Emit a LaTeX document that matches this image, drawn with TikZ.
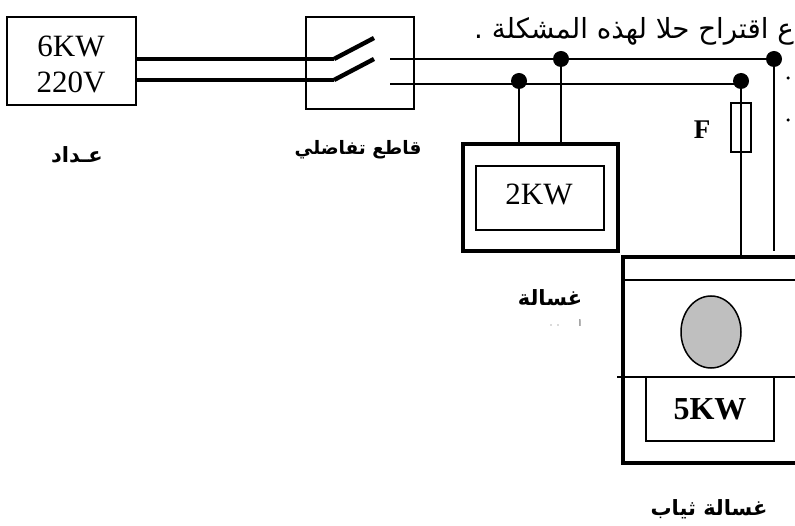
\documentclass[tikz,border=0pt]{standalone}
\usepackage{fontspec}
\usetikzlibrary{shapes.geometric}
\setmainfont{Liberation Serif}
\newfontfamily\arabicfont[Script=Arabic]{DejaVu Sans}
\TeXXeTstate=1
\tikzset{
  thinbox/.style={draw=black,line width=1.5pt,fill=white,inner sep=0pt,align=center},
  thickbox/.style={draw=black,line width=4pt,fill=white,inner sep=0pt},
  wire/.style={line width=1.5pt},
  bus/.style={line width=4pt},
  blade/.style={line width=4.4pt},
  junction/.style={circle,fill=black,inner sep=0pt,minimum size=16pt},
  speck/.style={circle,fill=black,inner sep=0pt,minimum size=3.5pt},
  tinyspeck/.style={circle,fill=black!60,inner sep=0pt,minimum size=1.2pt},
  serifval/.style={inner sep=0pt,font=\fontsize{31}{36}\selectfont,align=center},
  latb/.style={inner sep=0pt,font=\bfseries\fontsize{32}{36}\selectfont},
  arlabel/.style={inner sep=0pt}
}
\newcommand{\arsize}[1]{\arabicfont\bfseries\fontsize{#1}{#1}\selectfont}
\begin{document}
\begin{tikzpicture}[x=1pt,y=-1pt]
\clip (0,0) rectangle (795,526);
\fill[white] (0,0) rectangle (795,526);
% top text
\node[anchor=east,inner sep=0pt,font=\arabicfont\fontsize{27.7}{32}\selectfont] (toptext) at (794,31) {\beginR ع اقتراح حلا لهذه المشكلة .\endR};
% meter
\node[thinbox,minimum width=129pt,minimum height=88pt] (meter) at (71.5,61) {};
\node[serifval] (meterval) at (71,64) {6KW\\220V};
\coordinate (m1) at (meter.east |- 0,59);
\coordinate (m2) at (meter.east |- 0,80);
% breaker
\node[thinbox,minimum width=108pt,minimum height=92pt] (breaker) at (360,63) {};
\coordinate (b1in) at (334,59);
\coordinate (b2in) at (334,80);
\coordinate (b1tip) at (374,38);
\coordinate (b2tip) at (374,59);
\coordinate (b1out) at (390,59);
\coordinate (b2out) at (390,84);
\draw[bus] (m1) -- (b1in);
\draw[bus] (m2) -- (b2in);
\draw[blade] (b1in) -- (b1tip);
\draw[blade] (b2in) -- (b2tip);
% junctions
\node[junction] (j1) at (561,59) {};
\node[junction] (j2) at (519,81) {};
\node[junction] (j3) at (741,81) {};
\node[junction] (j4) at (774,59) {};
\draw[wire] (b1out) -- (j4.center);
\draw[wire] (b2out) -- (741,84);
% small washer
\node[thickbox,minimum width=155pt,minimum height=107pt] (washer) at (540,197.5) {};
\node[thinbox,minimum width=128pt,minimum height=64pt] (washerbox) at (540,198) {};
\node[serifval] (washerval) at (539,194.5) {2KW};
\draw[wire] (j2.center) -- (j2.center |- washer.north);
\draw[wire] (j1.center) -- (j1.center |- washer.north);
% big machine
\draw[line width=4pt,fill=white] (830,257) -- (622.5,257) -- (622.5,463) -- (830,463);
\coordinate (bigL) at (622,280);
\coordinate (bigR) at (795,280);
\draw[wire] (bigL) -- (bigR);
\coordinate (sepL) at (617,377);
\coordinate (sepR) at (795,377);
\draw[line width=2pt] (sepL) -- (sepR);
\node[draw=black,line width=1.5pt,fill=gray!50,ellipse,minimum width=60pt,minimum height=72pt,inner sep=0pt] (drum) at (711,332) {};
\node[thinbox,minimum width=128pt,minimum height=64pt,latb] (bigval) at (710,409) {5KW};
% fuse and feeds
\coordinate (bigtopa) at (741,257);
\coordinate (bigtopb) at (774,251);
\draw[wire] (j3.center) -- (bigtopa);
\draw[wire] (j4.center) -- (bigtopb);
\node[thinbox,fill=none,minimum width=20pt,minimum height=49pt] (fuse) at (741,127.5) {};
\node[inner sep=0pt,font=\bfseries\fontsize{27}{30}\selectfont] (flabel) at (702,130) {F};
% arabic labels
\node[arlabel,font=\arsize{21}] (l1) at (77,155) {\beginR عـداد\endR};
\node[arlabel,font=\arsize{18.5}] (l2) at (358,150) {\beginR قاطع تفاضلي\endR};
\node[arlabel,font=\arsize{21}] (l3) at (550,298) {\beginR غسالة\endR};
\node[arlabel,font=\arsize{21}] (l4) at (709,509) {\beginR غسالة ثياب\endR};
\node[inner sep=0pt,font=\arabicfont\fontsize{7}{8}\selectfont] (l5) at (580,323) {\beginR أ\endR};
% residual marks
\node[speck] (d1) at (788,78) {};
\node[speck] (d2) at (788,120) {};
\node[tinyspeck] (d3) at (551,325) {};
\node[tinyspeck] (d4) at (558,325) {};
\end{tikzpicture}
\end{document}
